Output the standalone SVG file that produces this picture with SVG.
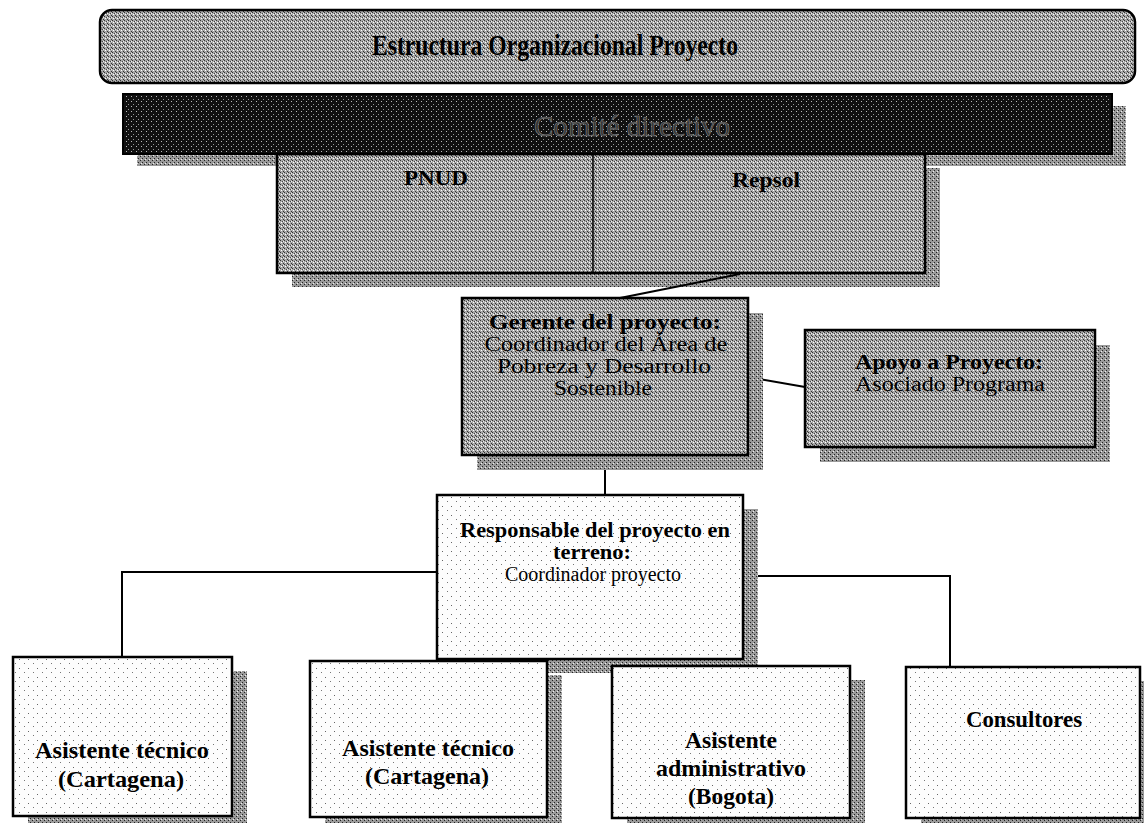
<svg xmlns="http://www.w3.org/2000/svg" width="1144" height="823" viewBox="0 0 1144 823">
<style>
.t{font-family:"Liberation Serif","Times New Roman",serif;fill:#000;text-anchor:middle}
.b{font-weight:bold}
.box{stroke:#000;stroke-width:2.5}
.gray{fill:url(#gray)}
.light{fill:url(#dots)}
.shadow{fill:url(#shade)}
.con{fill:none;stroke:#000;stroke-width:2}
</style>
<defs>
<pattern id="gray" width="4" height="4" patternUnits="userSpaceOnUse">
<rect width="4" height="4" fill="#a9a9a9"/>
<rect x="0" y="0" width="1" height="1" fill="#333"/>
<rect x="2" y="1" width="1" height="1" fill="#444"/>
<rect x="1" y="2" width="1" height="1" fill="#fff"/>
<rect x="3" y="3" width="1" height="1" fill="#333"/>
<rect x="3" y="1" width="1" height="1" fill="#eee"/>
</pattern>
<pattern id="shade" width="4" height="4" patternUnits="userSpaceOnUse">
<rect width="4" height="4" fill="#9a9a9a"/>
<rect x="0" y="0" width="1" height="1" fill="#222"/>
<rect x="2" y="2" width="1" height="1" fill="#222"/>
<rect x="1" y="3" width="1" height="1" fill="#eee"/>
</pattern>
<pattern id="dark" width="5" height="5" patternUnits="userSpaceOnUse">
<rect width="5" height="5" fill="#111"/>
<rect x="1" y="1" width="1" height="1" fill="#bbb"/>
<rect x="3" y="4" width="1" height="1" fill="#999"/>
</pattern>
<pattern id="dots" width="9" height="9" patternUnits="userSpaceOnUse">
<rect width="9" height="9" fill="#fdfdfd"/>
<rect x="1" y="2" width="1" height="1" fill="#666"/>
<rect x="6" y="6" width="1" height="1" fill="#777"/>
</pattern>
</defs>

<g id="title">
<rect x="100" y="10" width="1035" height="73" rx="12" class="box gray"/>
<text x="555" y="55" class="t b" font-size="30" textLength="366" lengthAdjust="spacingAndGlyphs">Estructura Organizacional Proyecto</text>
</g>

<g id="comite">
<rect x="137" y="106" width="989" height="60" class="shadow"/>
<rect x="123" y="94" width="989" height="60" fill="url(#dark)" stroke="#000" stroke-width="2"/>
<text x="632" y="136" class="t" font-size="30" stroke="#7a7a7a" stroke-width="0.7" style="fill:#333" textLength="196" lengthAdjust="spacingAndGlyphs">Comité directivo</text>
</g>

<g id="pnud-repsol">
<rect x="292" y="168" width="648" height="119" class="shadow"/>
<rect x="277" y="154" width="648" height="119" class="box gray"/>
<line x1="593" y1="154" x2="593" y2="273" stroke="#000" stroke-width="1.5"/>
<text x="436" y="185" class="t b" font-size="21" textLength="64" lengthAdjust="spacingAndGlyphs">PNUD</text>
<text x="766" y="187" class="t b" font-size="21" textLength="68" lengthAdjust="spacingAndGlyphs">Repsol</text>
</g>

<g id="connectors">
<polyline points="740,274 620,298" class="con"/>
<polyline points="748,377 805,387" class="con"/>
<polyline points="605,455 605,495" class="con"/>
<polyline points="437,572 122,572 122,657" class="con"/>
<polyline points="743,576 950,576 950,667" class="con"/>
<polyline points="495,659 495,661" class="con"/>
<polyline points="707,659 707,666" class="con"/>
</g>

<g id="gerente">
<rect x="477" y="313" width="286" height="157" class="shadow"/>
<rect x="462" y="298" width="286" height="157" class="box gray"/>
<text x="605" y="329" class="t b" font-size="20" textLength="232" lengthAdjust="spacingAndGlyphs">Gerente del proyecto:</text>
<text x="606" y="351" class="t" font-size="20" textLength="243" lengthAdjust="spacingAndGlyphs">Coordinador del Área de</text>
<text x="604" y="373" class="t" font-size="20" textLength="214" lengthAdjust="spacingAndGlyphs">Pobreza y Desarrollo</text>
<text x="603" y="395" class="t" font-size="20" textLength="98" lengthAdjust="spacingAndGlyphs">Sostenible</text>
</g>

<g id="apoyo">
<rect x="820" y="345" width="290" height="117" class="shadow"/>
<rect x="805" y="330" width="290" height="117" class="box gray"/>
<text x="949" y="369" class="t b" font-size="20" textLength="188" lengthAdjust="spacingAndGlyphs">Apoyo a Proyecto:</text>
<text x="950" y="391" class="t" font-size="20" textLength="190" lengthAdjust="spacingAndGlyphs">Asociado Programa</text>
</g>

<g id="responsable">
<rect x="452" y="509" width="306" height="164" class="shadow"/>
<rect x="437" y="495" width="306" height="164" class="box light"/>
<text x="595" y="537" class="t b" font-size="20" textLength="270" lengthAdjust="spacingAndGlyphs">Responsable del proyecto en</text>
<text x="592" y="559" class="t b" font-size="20" textLength="78" lengthAdjust="spacingAndGlyphs">terreno:</text>
<text x="593" y="581" class="t" font-size="20" textLength="176" lengthAdjust="spacingAndGlyphs">Coordinador proyecto</text>
</g>

<g id="asistente1">
<rect x="28" y="671" width="219" height="160" class="shadow"/>
<rect x="13" y="657" width="219" height="159" class="box light"/>
<text x="122" y="758" class="t b" font-size="23" textLength="174" lengthAdjust="spacingAndGlyphs">Asistente técnico</text>
<text x="121" y="787" class="t b" font-size="23" textLength="126" lengthAdjust="spacingAndGlyphs">(Cartagena)</text>
</g>

<g id="asistente2">
<rect x="325" y="675" width="237" height="160" class="shadow"/>
<rect x="310" y="661" width="237" height="156" class="box light"/>
<text x="428" y="756" class="t b" font-size="23" textLength="172" lengthAdjust="spacingAndGlyphs">Asistente técnico</text>
<text x="427" y="784" class="t b" font-size="23" textLength="124" lengthAdjust="spacingAndGlyphs">(Cartagena)</text>
</g>

<g id="asistente3">
<rect x="627" y="680" width="238" height="160" class="shadow"/>
<rect x="612" y="666" width="238" height="152" class="box light"/>
<text x="731" y="748" class="t b" font-size="23" textLength="92" lengthAdjust="spacingAndGlyphs">Asistente</text>
<text x="731" y="776" class="t b" font-size="23" textLength="150" lengthAdjust="spacingAndGlyphs">administrativo</text>
<text x="731" y="804" class="t b" font-size="23" textLength="86" lengthAdjust="spacingAndGlyphs">(Bogota)</text>
</g>

<g id="consultores">
<rect x="921" y="681" width="234" height="160" class="shadow"/>
<rect x="906" y="667" width="234" height="151" class="box light"/>
<text x="1024" y="727" class="t b" font-size="23" textLength="116" lengthAdjust="spacingAndGlyphs">Consultores</text>
</g>
</svg>
